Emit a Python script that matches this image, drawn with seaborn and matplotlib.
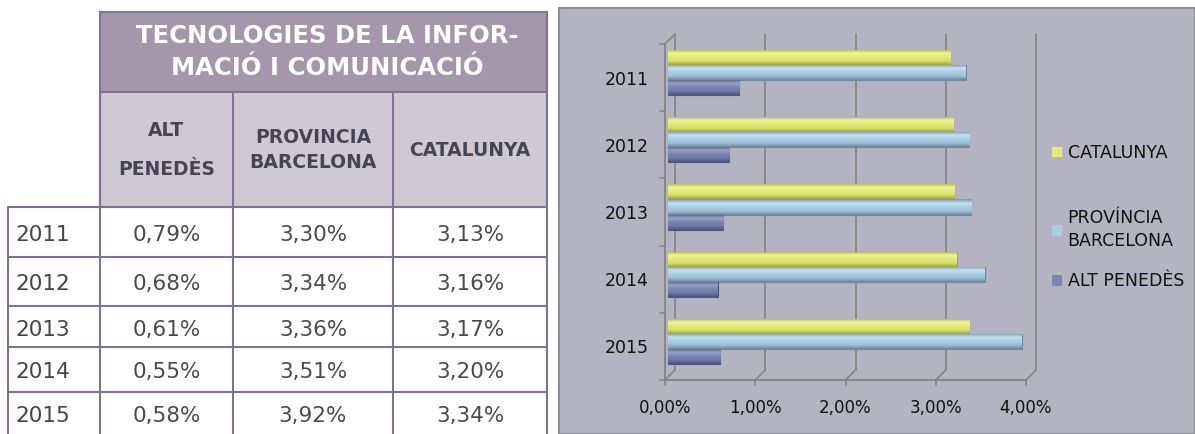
import matplotlib
matplotlib.use("Agg")
import matplotlib.pyplot as plt
import numpy as np
import pandas as pd
import seaborn as sns
from matplotlib.patches import Rectangle
from matplotlib.lines import Line2D
from matplotlib.ticker import FuncFormatter
from matplotlib.transforms import ScaledTranslation
from matplotlib.colors import LinearSegmentedColormap

# data (percent of companies in the ICT sector)
years = ["2011", "2012", "2013", "2014", "2015"]
alt_penedes = [0.79, 0.68, 0.61, 0.55, 0.58]
provincia = [3.30, 3.34, 3.36, 3.51, 3.92]
catalunya = [3.13, 3.16, 3.17, 3.20, 3.34]

table_title = "TECNOLOGIES DE LA INFOR-\nMACIÓ I COMUNICACIÓ"
table_cols = ["ALT\nPENEDÈS", "PROVINCIA\nBARCELONA", "CATALUNYA"]
series_names = ["CATALUNYA", "PROVÍNCIA BARCELONA", "ALT PENEDÈS"]
legend_labels = ["CATALUNYA", "PROVÍNCIA\nBARCELONA", "ALT PENEDÈS"]

# colours
header_dark = "#A497AB"
header_light = "#CFC9D6"
grid_line = "#7F7390"
panel_bg = "#B3B3C1"
palette = {"CATALUNYA": "#E3EA76", "PROVÍNCIA BARCELONA": "#A9CDE4", "ALT PENEDÈS": "#7985B3"}
shades = {"CATALUNYA": ["#A8AD4C", "#EEF2A0", "#E3EA76", "#D9E06A", "#9EA344"],
          "PROVÍNCIA BARCELONA": ["#7894A8", "#C8E0EE", "#A9CDE4", "#9DC0D8", "#6F8799"],
          "ALT PENEDÈS": ["#545E85", "#97A1C8", "#7985B3", "#6E7AA8", "#4C557A"]}
edges = {"CATALUNYA": "#A3A84A", "PROVÍNCIA BARCELONA": "#71899B", "ALT PENEDÈS": "#4E577C"}


def pct(v):
    return f"{v:.2f}".replace(".", ",") + "%"


sns.set_theme(style="white")
plt.rcParams["font.family"] = ["DejaVu Sans"]

W, H = 1195, 434
fig = plt.figure(figsize=(W / 100, H / 100), dpi=100)
fig.patch.set_facecolor("white")

#################################### TABLE ####################################
tab = fig.add_axes([0, 0, 548 / W, 1])
tab.set_xlim(0, 548)
tab.set_ylim(H, 0)
tab.axis("off")

col_x = [8, 100, 233, 393, 547]
row_y = [207, 257, 306, 347, 392, H]

tab.add_patch(Rectangle((col_x[1], 12), col_x[4] - col_x[1], 80, facecolor=header_dark,
                        edgecolor=grid_line, lw=1.5))
tab.add_patch(Rectangle((col_x[1], 92), col_x[4] - col_x[1], row_y[0] - 92, facecolor=header_light,
                        edgecolor=grid_line, lw=1.5))
tab.text((col_x[1] + col_x[4]) / 2 + 4, 52, table_title, ha="center", va="center", color="white",
         fontsize=17.5, fontweight="bold", linespacing=1.4)

spacing = [2.3, 1.45, 1.45]
for i, lab in enumerate(table_cols):
    cx = (col_x[i + 1] + col_x[i + 2]) / 2
    tab.text(cx, 150, lab, ha="center", va="center", color="#454555", fontsize=13.5,
             fontweight="bold", linespacing=spacing[i])
    tab.plot([col_x[i + 1]] * 2, [92, H], color=grid_line, lw=1.5)
tab.plot([col_x[4]] * 2, [92, H], color=grid_line, lw=1.5)
tab.plot([col_x[0]] * 2, [row_y[0], H], color=grid_line, lw=1.5)
for y in row_y[:-1]:
    tab.plot([col_x[0], col_x[4]], [y, y], color=grid_line, lw=1.5)

for r, yr in enumerate(years):
    cy = (row_y[r] + row_y[r + 1]) / 2 + 3
    tab.text(col_x[0] + 7, cy, yr, ha="left", va="center", color="#444444", fontsize=15.5)
    for c, vals in enumerate([alt_penedes, provincia, catalunya]):
        cx = (col_x[c + 1] + col_x[c + 2]) / 2
        tab.text(cx, cy, pct(vals[r]), ha="center", va="center", color="#4A4A4A", fontsize=15.5)

#################################### CHART ####################################
fig.patches.append(Rectangle((559 / W, 0), 1 - 559 / W, 1 - 8 / H, transform=fig.transFigure,
                             facecolor=panel_bg, edgecolor="#8C8C96", lw=1.5, zorder=-1))

df = pd.DataFrame({
    "year": years * 3,
    "serie": [series_names[0]] * 5 + [series_names[1]] * 5 + [series_names[2]] * 5,
    "value": catalunya + provincia + alt_penedes,
})

ax = fig.add_axes([665 / W, 1 - 380 / H, (1026 - 665) / W, 336 / H])
ax.set_zorder(2)
ax.set_facecolor("none")
sns.barplot(data=df, y="year", x="value", hue="serie", hue_order=series_names, palette=palette,
            saturation=1, orient="h", width=0.67, ax=ax, legend=False, zorder=3)

# bars sit half way into the depth of the 3d box, shaded like cylinders
shift = ax.transData + ScaledTranslation(0.03, 0.05, fig.dpi_scale_trans)
grad = np.linspace(0, 1, 60).reshape(-1, 1)
for cont, name in zip(ax.containers, series_names):
    cmap = LinearSegmentedColormap.from_list(name, shades[name])
    for bar in cont:
        bar.set_transform(shift)
        bar.set_edgecolor(edges[name])
        bar.set_linewidth(0.8)
        x, y, w, h = bar.get_x(), bar.get_y(), bar.get_width(), bar.get_height()
        im = ax.imshow(grad, cmap=cmap, extent=[x, x + w, y + h, y], aspect="auto",
                       interpolation="bilinear", zorder=3.5)
        im.set_transform(shift)
        im.set_clip_path(bar)

ax.set_aspect("auto")
ax.set_xlim(0, 4)
ax.set_ylim(4.5, -0.5)
ax.set_xticks([0, 1, 2, 3, 4])
ax.xaxis.set_major_formatter(FuncFormatter(lambda v, p: pct(v)))
ax.set_xlabel("")
ax.set_ylabel("")
ax.tick_params(axis="x", length=0, pad=14, labelsize=12, colors="#111111")
ax.tick_params(axis="y", length=0, pad=12, labelsize=12.5, colors="#111111")
for s in ["top", "right"]:
    ax.spines[s].set_visible(False)
for s in ["left", "bottom"]:
    ax.spines[s].set_color("#808080")
    ax.spines[s].set_linewidth(1.2)

# back wall of the 3d chart: gridlines shifted up and right
fig.canvas.draw()
d = 10
axline = "#848484"
for v in ax.get_xticks():
    x0, y0 = ax.transData.transform((v, 4.5))
    x1, y1 = ax.transData.transform((v, -0.5))
    fig.add_artist(Line2D([x0 + d, x1 + d], [y0 + d, y1 + d], transform=None, color=axline, lw=1.2, zorder=1))
    fig.add_artist(Line2D([x0, x0 + d], [y0, y0 + d], transform=None, color=axline, lw=1.2, zorder=1))
    fig.add_artist(Line2D([x0, x0], [y0, y0 - 5], transform=None, color=axline, lw=1.2, zorder=1))
x1, y1 = ax.transData.transform((0, -0.5))
fig.add_artist(Line2D([x1, x1 + d], [y1, y1 + d], transform=None, color=axline, lw=1.2, zorder=1))
for k in np.arange(-0.5, 5, 1):
    xk, yk = ax.transData.transform((0, k))
    fig.add_artist(Line2D([xk - 5, xk], [yk, yk], transform=None, color=axline, lw=1.2, zorder=1))

handles = [Rectangle((0, 0), 1, 1, facecolor=palette[n], edgecolor="none") for n in series_names]
leg_kw = dict(frameon=False, fontsize=12.5, handlelength=0.55, handleheight=0.55, handletextpad=0.35,
              labelcolor="#111111", borderaxespad=0, borderpad=0)
leg1 = fig.legend(handles[:1], legend_labels[:1], loc="center left",
                  bbox_to_anchor=(1052 / W, 1 - 153 / H), **leg_kw)
leg2 = fig.legend(handles[1:], legend_labels[1:], loc="upper left",
                  bbox_to_anchor=(1052 / W, 1 - 209 / H), labelspacing=1.3, **leg_kw)
for t in leg2.get_texts():
    t.set_linespacing(1.35)

fig.savefig("out.png", dpi=100)
